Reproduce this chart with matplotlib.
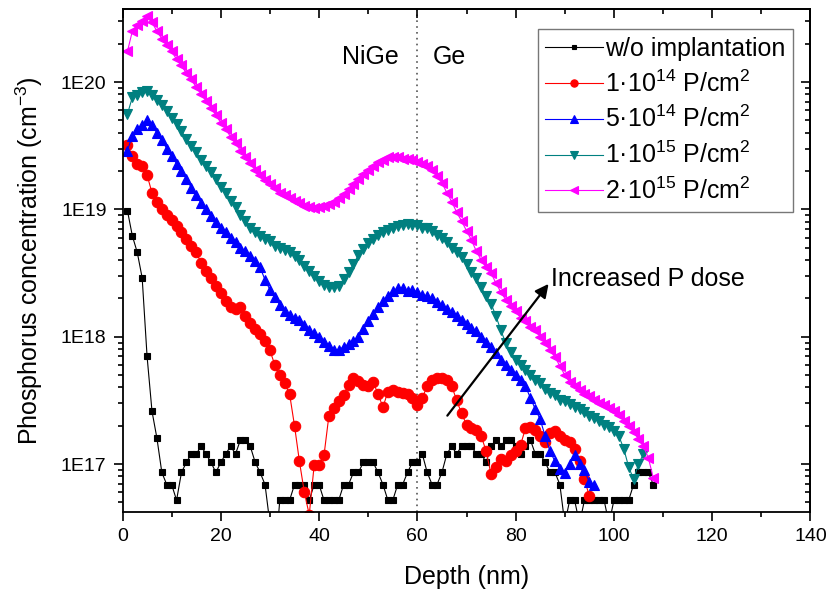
import numpy as np
import matplotlib
matplotlib.use("Agg")
import matplotlib.pyplot as plt
from matplotlib.ticker import MultipleLocator, LogLocator, FuncFormatter, NullFormatter

plt.rcParams['font.family'] = ['Liberation Sans', 'DejaVu Sans']
plt.rcParams['mathtext.fontset'] = 'custom'
plt.rcParams['mathtext.rm'] = 'Liberation Sans'
plt.rcParams['mathtext.it'] = 'Liberation Sans:italic'

# SIMS depth profiles, P concentration in cm^-3, one point per nm
p_none = [
    9.8e18, 6.2e18, 4.6e18, 2.9e18, 7.0e17, 2.6e17, 1.6e17, 8.6e16, 6.9e16, 6.9e16,
    5.2e16, 8.6e16, 1.03e17, 1.2e17, 1.2e17, 1.38e17, 1.2e17, 1.03e17, 8.6e16, 1.03e17,
    1.2e17, 1.38e17, 1.2e17, 1.55e17, 1.55e17, 1.38e17, 1.03e17, 8.6e16, 6.9e16, 3.4e16,
    1.7e16, 5.2e16, 5.2e16, 5.2e16, 6.9e16, 6.9e16, 6.9e16, 5.2e16, 6.9e16, 6.9e16,
    5.2e16, 5.2e16, 5.2e16, 5.2e16, 6.9e16, 6.9e16, 8.6e16, 8.6e16, 1.03e17, 1.03e17,
    1.03e17, 8.6e16, 6.9e16, 5.2e16, 5.2e16, 6.9e16, 6.9e16, 8.6e16, 1.03e17, 1.03e17,
    1.2e17, 8.6e16, 6.9e16, 6.9e16, 8.6e16, 1.2e17, 1.38e17, 1.2e17, 1.38e17, 1.38e17,
    1.38e17, 1.2e17, 1.2e17, 1.03e17, 1.38e17, 1.55e17, 1.38e17, 1.55e17, 1.55e17, 1.38e17,
    1.2e17, 1.38e17, 1.55e17, 1.2e17, 1.2e17, 1.03e17, 8.6e16, 8.6e16, 6.9e16, 3.4e16,
    5.2e16, 5.2e16, 3.4e16, 5.2e16, 5.2e16, 5.2e16, 5.2e16, 5.2e16, 3.4e16, 5.2e16,
    5.2e16, 5.2e16, 5.2e16, 6.9e16, 8.6e16, 8.6e16, 8.6e16, 6.9e16,
]
p_1e14 = [
    3.2e19, 2.63e19, 2.29e19, 2.19e19, 1.86e19, 1.35e19, 1.15e19, 1.0e19, 9.1e18, 8.3e18,
    7.4e18, 6.6e18, 5.9e18, 5.2e18, 4.6e18, 3.8e18, 3.3e18, 2.9e18, 2.51e18, 2.19e18,
    1.91e18, 1.70e18, 1.66e18, 1.70e18, 1.45e18, 1.29e18, 1.15e18, 1.05e18, 9.3e17, 7.8e17,
    6.0e17, 5.0e17, 4.3e17, 3.55e17, 2.0e17, 1.05e17, 6.0e16, 4.0e16, 9.8e16, 9.8e16,
    1.17e17, 2.4e17, 2.75e17, 3.1e17, 3.5e17, 4.2e17, 4.7e17, 4.5e17, 4.2e17, 4.1e17,
    4.4e17, 3.55e17, 2.8e17, 3.7e17, 3.8e17, 3.7e17, 3.6e17, 3.55e17, 3.3e17, 2.9e17,
    3.3e17, 4.1e17, 4.6e17, 4.7e17, 4.7e17, 4.6e17, 4.1e17, 3.16e17, 2.5e17, 2.04e17,
    1.91e17, 1.86e17, 1.66e17, 1.26e17, 8.3e16, 9.5e16, 1.10e17, 1.05e17, 1.17e17, 1.26e17,
    1.41e17, 1.91e17, 1.95e17, 1.86e17, 1.66e17, 1.48e17, 1.74e17, 1.82e17, 1.66e17, 1.55e17,
    1.48e17, 1.32e17, 1.05e17, 7.6e16, 5.6e16,
]
p_5e14 = [
    2.9e19, 3.8e19, 4.3e19, 4.6e19, 5.0e19, 4.6e19, 4.0e19, 3.5e19, 3.0e19, 2.63e19,
    2.29e19, 2.0e19, 1.74e19, 1.48e19, 1.29e19, 1.12e19, 1.0e19, 8.9e18, 7.9e18, 7.2e18,
    6.6e18, 6.0e18, 5.5e18, 5.0e18, 4.7e18, 4.3e18, 3.9e18, 3.5e18, 2.8e18, 2.34e18,
    2.04e18, 1.78e18, 1.58e18, 1.48e18, 1.41e18, 1.35e18, 1.23e18, 1.12e18, 1.07e18, 1.0e18,
    9.1e17, 8.5e17, 7.9e17, 7.9e17, 8.3e17, 8.7e17, 9.3e17, 1.0e18, 1.15e18, 1.32e18,
    1.51e18, 1.70e18, 1.91e18, 2.09e18, 2.29e18, 2.4e18, 2.4e18, 2.29e18, 2.34e18, 2.24e18,
    2.14e18, 2.09e18, 2.0e18, 1.86e18, 1.78e18, 1.66e18, 1.55e18, 1.45e18, 1.35e18, 1.26e18,
    1.17e18, 1.10e18, 1.0e18, 9.1e17, 8.3e17, 7.4e17, 6.6e17, 6.0e17, 5.5e17, 5.0e17,
    4.6e17, 4.1e17, 3.3e17, 2.7e17, 2.24e17, 1.66e17, 1.26e17, 1.05e17, 9.1e16, 8.5e16,
    1.0e17, 1.17e17, 1.0e17, 8.9e16, 7.2e16, 6.9e16,
]
p_1e15 = [
    5.6e19, 7.6e19, 7.9e19, 8.3e19, 8.5e19, 7.9e19, 7.2e19, 6.6e19, 5.9e19, 5.2e19,
    4.7e19, 4.1e19, 3.6e19, 3.16e19, 2.8e19, 2.45e19, 2.19e19, 1.95e19, 1.74e19, 1.51e19,
    1.35e19, 1.17e19, 1.05e19, 9.1e18, 8.1e18, 7.2e18, 6.6e18, 6.2e18, 5.9e18, 5.6e18,
    5.2e18, 5.0e18, 4.8e18, 4.6e18, 4.3e18, 4.0e18, 3.6e18, 3.3e18, 3.0e18, 2.75e18,
    2.57e18, 2.45e18, 2.45e18, 2.51e18, 2.82e18, 3.24e18, 3.7e18, 4.4e18, 4.9e18, 5.4e18,
    5.9e18, 6.3e18, 6.6e18, 6.9e18, 7.2e18, 7.4e18, 7.6e18, 7.7e18, 7.6e18, 7.5e18,
    7.2e18, 7.1e18, 6.8e18, 6.3e18, 6.0e18, 5.5e18, 5.0e18, 4.6e18, 4.2e18, 3.7e18,
    3.24e18, 2.9e18, 2.45e18, 2.09e18, 1.82e18, 1.45e18, 1.12e18, 8.9e17, 7.6e17, 6.6e17,
    6.0e17, 5.5e17, 5.0e17, 4.6e17, 4.3e17, 3.9e17, 3.6e17, 3.5e17, 3.2e17, 3.1e17,
    2.95e17, 2.8e17, 2.7e17, 2.57e17, 2.4e17, 2.29e17, 2.19e17, 2.04e17, 1.95e17, 1.82e17,
    1.66e17, 1.32e17, 9.5e16, 7.6e16, 1.0e17, 1.2e17,
]
p_2e15 = [
    1.74e20, 2.51e20, 2.82e20, 3.02e20, 3.31e20, 2.95e20, 2.51e20, 2.19e20, 1.95e20, 1.74e20,
    1.51e20, 1.35e20, 1.17e20, 1.05e20, 9.1e19, 8.1e19, 7.1e19, 6.3e19, 5.5e19, 4.8e19,
    4.3e19, 3.7e19, 3.3e19, 2.9e19, 2.6e19, 2.3e19, 2.04e19, 1.86e19, 1.70e19, 1.58e19,
    1.48e19, 1.35e19, 1.29e19, 1.23e19, 1.17e19, 1.12e19, 1.07e19, 1.05e19, 1.035e19, 1.05e19,
    1.07e19, 1.10e19, 1.15e19, 1.23e19, 1.32e19, 1.45e19, 1.58e19, 1.74e19, 1.91e19, 2.04e19,
    2.19e19, 2.34e19, 2.45e19, 2.57e19, 2.57e19, 2.57e19, 2.51e19, 2.51e19, 2.45e19, 2.34e19,
    2.29e19, 2.19e19, 2.04e19, 1.82e19, 1.62e19, 1.35e19, 1.15e19, 9.5e18, 8.1e18, 6.8e18,
    5.75e18, 4.7e18, 4.0e18, 3.5e18, 3.16e18, 2.63e18, 2.24e18, 1.95e18, 1.74e18, 1.58e18,
    1.41e18, 1.32e18, 1.20e18, 1.12e18, 1.0e18, 8.9e17, 7.9e17, 6.9e17, 5.9e17, 5.0e17,
    4.4e17, 4.1e17, 3.8e17, 3.55e17, 3.4e17, 3.16e17, 3.0e17, 2.9e17, 2.75e17, 2.63e17,
    2.45e17, 2.19e17, 2.0e17, 1.78e17, 1.58e17, 1.38e17, 1.12e17, 7.8e16,
]

labels = ['w/o implantation',
          '1·10$^{14}$ P/cm$^{2}$',
          '5·10$^{14}$ P/cm$^{2}$',
          '1·10$^{15}$ P/cm$^{2}$',
          '2·10$^{15}$ P/cm$^{2}$']
colors = ['#000000', '#ff0000', '#0000ff', '#008080', '#ff00ff']
markers = ['s', 'o', '^', 'v', '<']
profiles = [p_none, p_1e14, p_5e14, p_1e15, p_2e15]

fig = plt.figure(figsize=(8.3, 5.96), dpi=100)
ax = fig.add_axes([0.1476, 0.1409, 0.8289, 0.8440])

for prof, c, m, lab in zip(profiles, colors, markers, labels):
    depth = np.arange(1, len(prof) + 1)
    ms = 5.0 if m == 's' else 7.5
    ax.plot(depth, prof, color=c, marker=m, ms=ms, mec=c, mfc=c, mew=0.8,
            lw=0.8, label=lab)

ax.set_yscale('log')
ax.set_xlim(0, 140)
ax.set_ylim(4.2e16, 3.75e20)

# NiGe / Ge interface
ax.axvline(60, color='#555555', ls=(0, (1, 2.5)), lw=1.2, zorder=0)
ax.text(50.5, 1.56e20, 'NiGe', fontsize=18, ha='center', va='center')
ax.text(66.5, 1.56e20, 'Ge', fontsize=18, ha='center', va='center')

ax.annotate('', xy=(86.7, 2.6e18), xytext=(66.1, 2.4e17),
            arrowprops=dict(arrowstyle='-|>', color='black', lw=1.6,
                            mutation_scale=20, shrinkA=0, shrinkB=0))
ax.text(87.1, 2.84e18, 'Increased P dose', fontsize=18, ha='left', va='center')

ax.xaxis.set_major_locator(MultipleLocator(20))
ax.xaxis.set_minor_locator(MultipleLocator(10))
ax.yaxis.set_major_locator(LogLocator(base=10))
ax.yaxis.set_minor_locator(LogLocator(base=10, subs=np.arange(2, 10)))
ax.yaxis.set_major_formatter(FuncFormatter(lambda v, p: '1E%d' % round(np.log10(v))))
ax.yaxis.set_minor_formatter(NullFormatter())

ax.tick_params(which='both', direction='out', width=1.2, labelsize=14,
               top=False, right=False)
ax.tick_params(which='major', length=6.5, pad=5)
ax.tick_params(which='minor', length=3.5)
for sp in ax.spines.values():
    sp.set_linewidth(1.3)

# inward ticks on top and right
top = ax.secondary_xaxis('top')
top.xaxis.set_major_locator(MultipleLocator(20))
top.xaxis.set_minor_locator(MultipleLocator(10))
top.tick_params(which='both', direction='in', width=1.2, labeltop=False)
top.tick_params(which='major', length=6.5)
top.tick_params(which='minor', length=3.5)
right = ax.secondary_yaxis('right')
right.yaxis.set_major_locator(LogLocator(base=10))
right.yaxis.set_minor_locator(LogLocator(base=10, subs=np.arange(2, 10)))
right.yaxis.set_major_formatter(NullFormatter())
right.yaxis.set_minor_formatter(NullFormatter())
right.tick_params(which='both', direction='in', width=1.2, labelright=False)
right.tick_params(which='major', length=6.5)
right.tick_params(which='minor', length=3.5)
for s in (top, right):
    for sp in s.spines.values():
        sp.set_linewidth(1.3)

ax.set_xlabel('Depth (nm)', fontsize=18)
ax.set_ylabel('Phosphorus concentration (cm$^{-3}$)', fontsize=18)
ax.xaxis.set_label_coords(0.5, -0.105)
ax.yaxis.set_label_coords(-0.112, 0.5)

leg = ax.legend(loc='upper right', bbox_to_anchor=(0.9746, 0.960), borderaxespad=0,
                fontsize=18, handlelength=2.3, handletextpad=0.1, borderpad=0.3,
                labelspacing=0.38, markerscale=0.7, fancybox=False, framealpha=1)
leg.get_frame().set_edgecolor('#777777')
leg.get_frame().set_linewidth(1.0)

fig.savefig('out.png', dpi=100)
